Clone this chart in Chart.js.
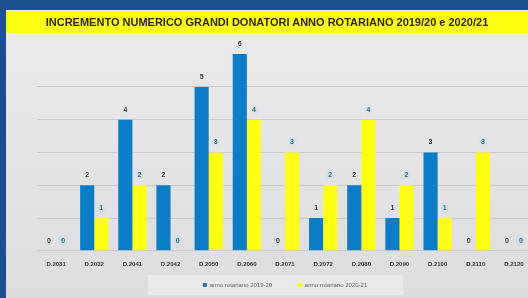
<!DOCTYPE html>
<html>
<head>
<meta charset="utf-8">
<script src="https://cdn.jsdelivr.net/npm/chart.js@4.4.1/dist/chart.umd.min.js"></script>
<style>
  html, body { margin: 0; padding: 0; overflow: hidden; background: #e2e2e4; }
  #wrap { position: absolute; left: 0; top: 0; width: 540px; height: 298px; }
  #title { position: absolute; left: 6px; top: 16px; width: 522px; height: 22px; line-height: 22px;
           text-align: center; font: bold 11px "Liberation Sans", Arial, sans-serif; color: #2a2a10;
           margin: 0; padding: 0; }
</style>
</head>
<body>
<div id="wrap"><canvas id="c" width="540" height="298"></canvas></div>
<div id="title"></div>
<script>
const title = 'INCREMENTO NUMERICO GRANDI DONATORI ANNO ROTARIANO 2019/20 e 2020/21';
const districts = ['D.2031','D.2032','D.2041','D.2042','D.2050','D.2060','D.2071','D.2072','D.2080','D.2090','D.2100','D.2110','D.2120'];
const series2019 = [0, 2, 4, 2, 5, 6, 0, 1, 2, 1, 3, 0, 0];
const series2020 = [0, 1, 2, 0, 3, 4, 3, 2, 4, 2, 1, 3, 0];
const seriesNames = ['anno rotariano 2019-20', 'anno rotariano 2020-21'];

document.getElementById('title').textContent = title;

const framePlugin = {
  id: 'frame',
  beforeDraw(chart) {
    const ctx = chart.ctx;
    const W = chart.width, H = chart.height;
    ctx.save();
    const g = ctx.createLinearGradient(0, 0, 0, H);
    g.addColorStop(0, '#ececee');
    g.addColorStop(1, '#dddde0');
    ctx.fillStyle = g;
    ctx.fillRect(0, 0, W, H);
    // legend lighter box
    ctx.fillStyle = 'rgba(255,255,255,0.35)';
    ctx.fillRect(148, 275, 255, 20);
    // blue frame
    ctx.fillStyle = '#1c4f8f';
    ctx.fillRect(0, 0, W, 10);
    ctx.fillRect(0, 0, 6, H);
    // yellow title band
    ctx.fillStyle = '#ffff14';
    ctx.fillRect(6, 11, W - 6, 22);
    ctx.restore();
  }
};

const labelPlugin = {
  id: 'vlabels',
  afterDatasetsDraw(chart) {
    const ctx = chart.ctx;
    ctx.save();
    ctx.font = 'bold 7px "Liberation Sans", Arial, sans-serif';
    ctx.textAlign = 'center';
    ctx.textBaseline = 'middle';
    chart.data.datasets.forEach((ds, i) => {
      const meta = chart.getDatasetMeta(i);
      meta.data.forEach((bar, j) => {
        const txt = String(ds.data[j]);
        if (i === 1) {
          ctx.shadowColor = 'rgba(120,200,230,0.9)';
          ctx.shadowBlur = 4;
          ctx.fillStyle = '#2f6f86';
        } else {
          ctx.shadowColor = 'rgba(255,255,255,0.6)';
          ctx.shadowBlur = 2;
          ctx.fillStyle = '#333333';
        }
        ctx.fillText(txt, bar.x, bar.y - 10);
      });
    });
    ctx.restore();
  }
};

new Chart(document.getElementById('c'), {
  type: 'bar',
  data: {
    labels: districts,
    datasets: [
      { label: seriesNames[0], data: series2019, backgroundColor: '#0b7dc6', borderWidth: 0,
        categoryPercentage: 0.74, barPercentage: 1.0 },
      { label: seriesNames[1], data: series2020, backgroundColor: '#ffff14', borderWidth: 0,
        categoryPercentage: 0.74, barPercentage: 1.0 }
    ]
  },
  options: {
    responsive: false,
    animation: false,
    devicePixelRatio: 1,
    layout: { padding: { left: 37, right: 7, top: 41, bottom: 0 } },
    plugins: {
      title: { display: false },
      legend: {
        position: 'bottom',
        labels: {
          usePointStyle: true,
          pointStyle: 'rect',
          boxWidth: 4,
          boxHeight: 4,
          padding: 4,
          color: '#666',
          font: { family: '"Liberation Sans", Arial, sans-serif', size: 6 },
          generateLabels(chart) {
            const items = Chart.defaults.plugins.legend.labels.generateLabels(chart);
            items.forEach((it, i) => { if (i === 0) it.text = it.text + '             '; });
            return items;
          }
        }
      },
      tooltip: { enabled: false }
    },
    scales: {
      x: {
        grid: { display: false, drawTicks: false, tickLength: 0 },
        border: { display: false },
        ticks: {
          color: '#333',
          font: { family: '"Liberation Sans", Arial, sans-serif', size: 6, weight: 'bold' },
          padding: 10,
          maxRotation: 0
        }
      },
      y: {
        min: 0,
        max: 6.4,
        ticks: { display: false, stepSize: 1 },
        border: { display: false },
        grid: { color: '#c9c9cc', lineWidth: 1, drawTicks: false },
        afterBuildTicks(scale) { scale.ticks = scale.ticks.filter(t => Number.isInteger(t.value)); },
        afterFit(scale) { scale.width = 0; }
      }
    }
  },
  plugins: [framePlugin, labelPlugin]
});
</script>
</body>
</html>
